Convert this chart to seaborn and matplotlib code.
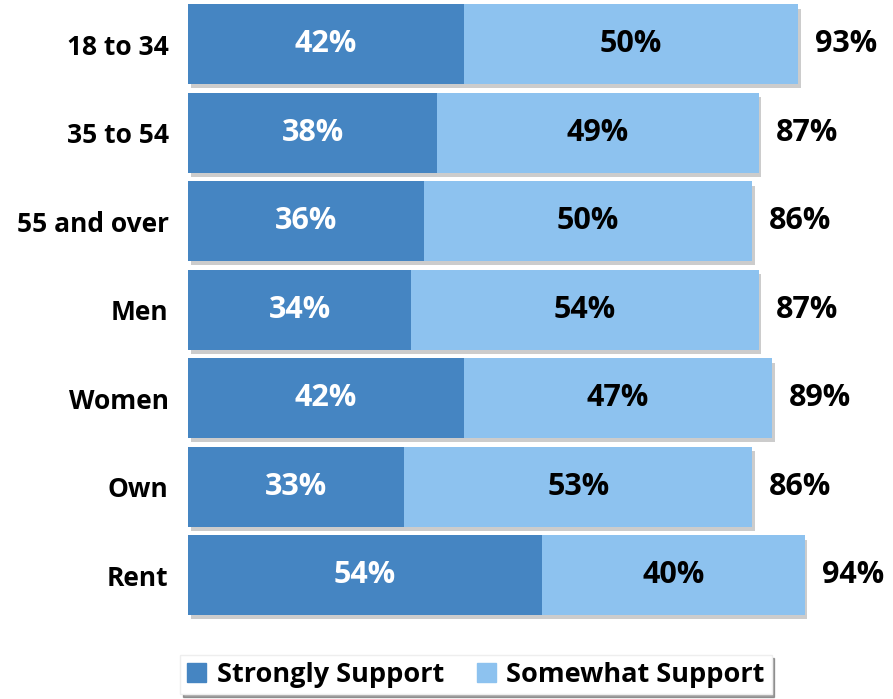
import pandas as pd
import matplotlib.pyplot as plt
import matplotlib.patheffects as pe
from matplotlib.patches import Patch
import seaborn as sns

# Values
groups = ['18 to 34', '35 to 54', '55 and over', 'Men', 'Women', 'Own', 'Rent']
strongly = [42, 38, 36, 34, 42, 33, 54]
somewhat = [50, 49, 50, 54, 47, 53, 40]
totals = [93, 87, 86, 87, 89, 86, 94]

dark_blue = '#4585C2'
light_blue = '#8DC2EF'

df = pd.DataFrame({'group': groups, 'strongly': strongly,
                   'somewhat': somewhat, 'total': totals})

sns.set_style("white")
plt.rcParams['font.family'] = ['Open Sans', 'DejaVu Sans']

fig = plt.figure(figsize=(8.93, 6.99), dpi=100)
ax = fig.add_axes([188/893, 79.5/699, 656/893, 619.5/699])

shadow = [pe.SimplePatchShadow(offset=(2, -3), shadow_rgbFace='#9a9a9a', alpha=0.5), pe.Normal()]

# light bar first (full length), dark bar on top
sns.barplot(ax=ax, data=df, y='group', x='total', color=light_blue, width=0.9,
            orient='h', saturation=1, linewidth=0)
sns.barplot(ax=ax, data=df, y='group', x='strongly', color=dark_blue, width=0.9,
            orient='h', saturation=1, linewidth=0)

n = len(groups)
for p in ax.patches[:n]:
    p.set_path_effects(shadow)

for i, row in df.iterrows():
    ax.text(row['strongly'] / 2, i, f"{row['strongly']}%", ha='center', va='center',
            color='white', fontsize=22, fontweight='bold')
    ax.text((row['strongly'] + row['total']) / 2, i, f"{row['somewhat']}%", ha='center',
            va='center', color='black', fontsize=22, fontweight='bold')
    ax.text(row['total'] + 2.6, i, f"{row['total']}%", ha='left', va='center',
            color='black', fontsize=22, fontweight='bold', clip_on=False)

ax.set_xlim(0, 100)
ax.set_ylim(n - 0.5, -0.5)
ax.set_xlabel('')
ax.set_ylabel('')
ax.set_xticks([])
ax.tick_params(axis='y', length=0, pad=14, labelcolor='black')
ax.set_yticks(range(n))
ax.set_yticklabels(groups, fontsize=19, fontweight='bold')
sns.despine(ax=ax, left=True, bottom=True)

handles = [Patch(color=dark_blue, label='Strongly Support'),
           Patch(color=light_blue, label='Somewhat Support')]
leg = fig.legend(handles=handles, loc='center', bbox_to_anchor=(0.533, 0.035), ncol=2,
                 frameon=True, shadow=True, fancybox=False,
                 prop={'weight': 'bold', 'size': 19.5}, handlelength=0.7, handleheight=0.7,
                 handletextpad=0.4, columnspacing=1.2, borderpad=0.25)
leg.get_frame().set_edgecolor('#eeeeee')
for t in leg.get_texts():
    t.set_color('black')

fig.savefig('out.png', dpi=100)
